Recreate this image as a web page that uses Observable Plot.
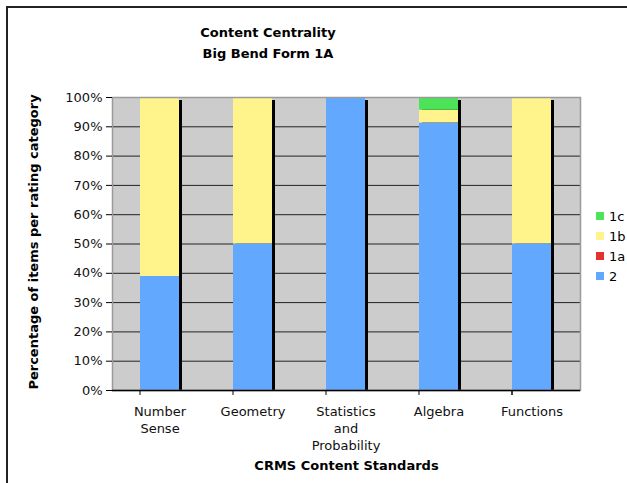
<!DOCTYPE html>
<html>
<head>
<meta charset="utf-8">
<script src="https://cdn.jsdelivr.net/npm/d3@7"></script>
<script src="https://cdn.jsdelivr.net/npm/@observablehq/plot@0.6"></script>
<style>
  html, body { margin: 0; padding: 0; background: #fff; overflow: hidden; }
  #wrap { position: relative; width: 627px; height: 483px; font-family: "DejaVu Sans", Verdana, sans-serif; color: #000; }
  #border { position: absolute; left: 6px; top: 6px; width: 700px; height: 600px; border: 2px solid #222; box-sizing: border-box; }
  #title { position: absolute; left: 168px; width: 200px; top: 22px; text-align: center; font-weight: bold; font-size: 13px; line-height: 21px; }
  #chart { position: absolute; left: 0; top: 0; }
  #legend { position: absolute; left: 596px; top: 206px; font-size: 13px; }
  .item { display: flex; align-items: center; height: 20px; }
  .sw { width: 8px; height: 8px; margin-right: 5px; }
</style>
</head>
<body>
<div id="wrap">
  <div id="border"></div>
  <div id="chart"></div>
  <div id="title">Content Centrality<br>Big Bend Form 1A</div>
  <div id="legend"></div>
</div>
<script>
const categories = ["Number Sense", "Geometry", "Statistics and Probability", "Algebra", "Functions"];
const categoryLabels = ["Number\nSense", "Geometry", "Statistics\nand\nProbability", "Algebra", "Functions"];
const ratings = ["2", "1a", "1b", "1c"];
const ratingColors = ["#62A8FF", "#E53030", "#FFF38C", "#4CE358"];
const values2  = [38.9, 50, 100, 91.3, 50];
const values1a = [0, 0, 0, 0, 0];
const values1b = [61.1, 50, 0, 4.35, 50];
const values1c = [0, 0, 0, 4.35, 0];
const yTicks = [0, 10, 20, 30, 40, 50, 60, 70, 80, 90, 100];

const series = [values2, values1a, values1b, values1c];
const rows = [];
ratings.forEach((r, j) => categories.forEach((c, i) => rows.push({category: c, rating: r, value: series[j][i]})));
const totals = categories.map((c, i) => ({category: c, total: series.reduce((s, a) => s + a[i], 0)}));

const step = 468 / 5;
const edges = categories.map(c => ({category: c, dx: -step / 2})).concat([{category: categories[categories.length - 1], dx: step / 2}]);

const chart = Plot.plot({
  width: 627,
  height: 483,
  marginLeft: 112,
  marginRight: 47,
  marginTop: 97,
  marginBottom: 93,
  style: {fontFamily: "DejaVu Sans, Verdana, sans-serif", fontSize: "13px", background: "transparent", overflow: "visible"},
  x: {domain: categories, paddingInner: 0.58, paddingOuter: 0.29, axis: null},
  y: {domain: [0, 100], axis: null},
  color: {domain: ratings, range: ratingColors},
  marks: [
    Plot.frame({fill: "#CCCCCC", stroke: null}),
    Plot.ruleY(yTicks.slice(1, -1), {stroke: "#222", strokeWidth: 1}),
    Plot.barY(totals, {x: "category", y: "total", fill: "#000", dx: 3, insetTop: 3}),
    Plot.barY(rows, {x: "category", y: "value", fill: "rating", order: ratings}),
    Plot.frame({stroke: "#9a9a9a", strokeWidth: 1.5}),
    Plot.ruleX([0], {frameAnchor: "left", stroke: "#444", strokeWidth: 2}),
    Plot.ruleY([0], {stroke: "#000", strokeWidth: 1.5}),
    Plot.axisY(yTicks, {tickFormat: d => d + "%", tickSize: 6, tickPadding: 4, fontSize: 13, stroke: "#000", fill: "#111"}),
    Plot.ruleX(edges, {x: "category", dx: d => d.dx, y1: 0, y2: -1.7, stroke: "#000"}),
    Plot.text(categories, {x: d => d, text: (d) => categoryLabels[categories.indexOf(d)], frameAnchor: "bottom", dy: 13, lineAnchor: "top", lineHeight: 1.31, fontSize: 13, fill: "#111"}),
    Plot.text(["Percentage of items per rating category"], {frameAnchor: "left", textAnchor: "middle", dx: -79, dy: -2, rotate: -90, fontWeight: "bold", fontSize: 13}),
    Plot.text(["CRMS Content Standards"], {frameAnchor: "bottom", dy: 79, fontWeight: "bold", fontSize: 13})
  ]
});
document.getElementById("chart").appendChild(chart);

const legend = document.getElementById("legend");
ratings.slice().reverse().forEach(r => {
  const item = document.createElement("div");
  item.className = "item";
  const sw = document.createElement("div");
  sw.className = "sw";
  sw.style.background = ratingColors[ratings.indexOf(r)];
  const lab = document.createElement("span");
  lab.textContent = r;
  item.appendChild(sw);
  item.appendChild(lab);
  legend.appendChild(item);
});
</script>
</body>
</html>
